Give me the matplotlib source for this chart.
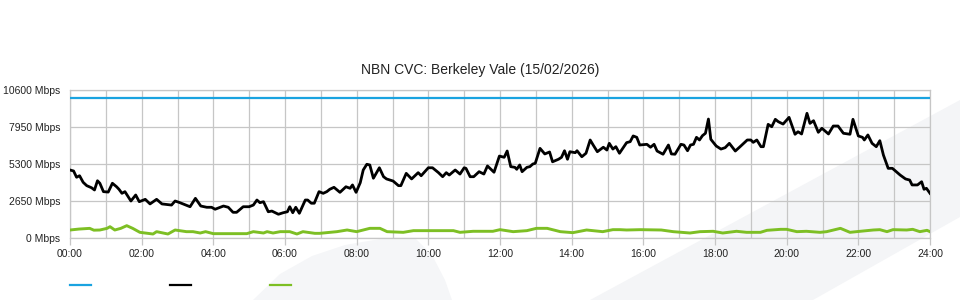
import numpy as np
import matplotlib.pyplot as plt
from matplotlib.lines import Line2D
from matplotlib.patches import Polygon

plt.rcParams['font.family'] = ['Liberation Sans', 'DejaVu Sans']

title = "NBN CVC: Berkeley Vale (15/02/2026)"

# capacity line (Mbps)
cvc_limit = 10000

# traffic in, minutes since midnight / Mbps
black_min = [0, 6, 11, 16, 22, 28, 36, 41, 46, 50, 56, 64, 71, 78, 82, 87, 92, 102, 110, 116,
             126, 134, 145, 154, 170, 176, 184, 201, 210, 219, 229, 237, 243, 257, 265, 273, 279,
             290, 300, 307, 313, 318, 324, 332, 338, 349, 357, 364, 368, 373, 378, 384, 394, 398,
             404, 409, 417, 424, 430, 435, 442, 452, 462, 469, 473, 479, 486, 491, 497, 502, 508,
             518, 525, 530, 541, 550, 554, 563, 572, 583, 588, 600, 607, 617, 624, 630, 635, 645,
             653, 660, 663, 670, 676, 685, 693, 699, 710, 719, 727, 732, 738, 745, 748, 753, 757,
             765, 770, 775, 779, 787, 795, 803, 808, 818, 823, 828, 833, 837, 846, 849, 857, 864,
             871, 876, 883, 893, 899, 903, 909, 914, 920, 932, 938, 943, 949, 954, 966, 972, 978,
             983, 993, 1002, 1007, 1013, 1023, 1028, 1034, 1039, 1044, 1049, 1054, 1059, 1064,
             1069, 1073, 1082, 1090, 1097, 1104, 1114, 1122, 1134, 1140, 1144, 1150, 1157, 1161,
             1169, 1175, 1181, 1186, 1194, 1204, 1214, 1219, 1225, 1234, 1239, 1245, 1253, 1259,
             1270, 1278, 1286, 1295, 1306, 1311, 1320, 1327, 1330, 1336, 1343, 1350, 1356, 1362,
             1370, 1377, 1390, 1399, 1406, 1410, 1419, 1426, 1430, 1434, 1440]
black_mbps = [4870, 4800, 4350, 4460, 3990, 3750, 3600, 3440, 4100, 3920, 3320, 3290, 3920, 3670,
              3490, 3200, 3320, 2650, 3080, 2600, 2770, 2440, 2770, 2440, 2360, 2650, 2530, 2240,
              2840, 2290, 2200, 2200, 2060, 2290, 2200, 1840, 1840, 2240, 2240, 2360, 2720, 2530,
              2600, 1880, 1930, 1700, 1810, 1880, 2240, 1810, 2200, 1770, 2720, 2720, 2490, 2490,
              3320, 3200, 3320, 3490, 3630, 3270, 3670, 3560, 3800, 3270, 3960, 4870, 5280, 5230,
              4280, 5030, 4390, 4230, 4080, 3750, 3750, 4630, 4230, 4680, 4460, 5030, 5030, 4680,
              4390, 4680, 4510, 4870, 4580, 5030, 4990, 4390, 4390, 4750, 4580, 5160, 4710, 5870,
              5780, 6230, 5110, 5060, 4920, 5230, 4750, 5060, 5110, 5300, 5350, 6420, 6020, 6160,
              5460, 5640, 5780, 6250, 5640, 6180, 6110, 6250, 5820, 6070, 7020, 6660, 6180, 6500,
              6300, 6780, 6370, 6540, 6070, 6830, 6900, 7310, 7210, 6660, 6710, 6500, 6710, 6230,
              6000, 6660, 6020, 6000, 6710, 6660, 6250, 6660, 6710, 7210, 7020, 7330, 7500, 8520,
              7070, 6590, 6370, 6470, 6780, 6230, 6540, 7020, 7020, 6850, 7020, 6540, 6540, 8140,
              7970, 8500, 8330, 8160, 8640, 7430, 7610, 7450, 8930, 8210, 8400, 7570, 7860, 7450,
              8020, 8020, 7500, 7430, 8500, 7310, 7210, 7020, 7380, 6780, 6540, 6970, 5940, 4990,
              4990, 4510, 4230, 4150, 3800, 3800, 4030, 3490, 3560, 3200]

# traffic out
green_min = [0, 15, 33, 40, 50, 62, 67, 75, 85, 95, 105, 117, 139, 145, 164, 176, 195, 206, 218,
             227, 240, 273, 296, 307, 324, 330, 340, 352, 368, 380, 390, 410, 418, 447, 464, 480,
             502, 519, 531, 558, 575, 642, 653, 675, 708, 720, 742, 765, 781, 799, 821, 842, 865,
             892, 909, 921, 932, 955, 990, 1010, 1038, 1055, 1077, 1093, 1116, 1133, 1156, 1167,
             1190, 1200, 1217, 1233, 1256, 1267, 1290, 1306, 1323, 1345, 1356, 1368, 1378, 1401,
             1411, 1423, 1435, 1440]
green_mbps = [573, 640, 690, 560, 573, 690, 810, 573, 690, 883, 690, 406, 286, 454, 286, 573, 454,
              454, 358, 454, 311, 311, 311, 454, 358, 454, 358, 454, 454, 286, 454, 334, 334, 454,
              573, 454, 692, 692, 454, 406, 526, 526, 406, 480, 480, 597, 454, 526, 692, 692, 454,
              382, 573, 454, 597, 597, 573, 597, 573, 454, 358, 454, 480, 358, 480, 406, 406, 550,
              621, 621, 454, 480, 406, 454, 692, 406, 480, 573, 597, 454, 597, 573, 621, 454, 550,
              454]

y_ticks = [0, 2650, 5300, 7950, 10600]
x_ticks = list(range(0, 1441, 120))
x_labels = ["%02d:00" % (m // 60) for m in x_ticks]

blue = '#1aa3e0'
green = '#7dbf24'
grid_c = '#c6c6c6'

fig = plt.figure(figsize=(9.6, 3.0), dpi=100)
fig.patch.set_facecolor('white')

# faint watermark shapes behind the chart
def px(pts):
    return [(x / 960, 1 - y / 300) for x, y in pts]

fig.add_artist(Polygon(px([(590, 300), (960, 100), (960, 217), (813, 300)]),
                       closed=True, transform=fig.transFigure, fc='#f4f5f7', ec='none', zorder=0))
fig.add_artist(Polygon(px([(253, 300), (280, 274), (312, 256), (345, 245), (380, 239), (415, 238),
                           (432, 255), (445, 280), (452, 300)]),
                       closed=True, transform=fig.transFigure, fc='#f5f6f8', ec='none', zorder=0))

ax = fig.add_axes([70 / 960, 62 / 300, 860 / 960, 148 / 300], zorder=1)
ax.patch.set_alpha(0)

ax.axhline(cvc_limit, color=blue, lw=1.6, zorder=3)
ax.plot(black_min, black_mbps, color='black', lw=2.0, zorder=4)
ax.plot(green_min, green_mbps, color=green, lw=2.1, zorder=3)

ax.set_xlim(0, 1440)
ax.set_ylim(0, 10600)
ax.set_xticks(x_ticks)
ax.set_xticklabels(x_labels)
ax.set_xticks(range(0, 1441, 60), minor=True)
ax.set_yticks(y_ticks)
ax.set_yticklabels(["%d Mbps" % v for v in y_ticks])

ax.grid(True, which='both', color=grid_c, lw=0.9, zorder=1)
for s in ax.spines.values():
    s.set_color(grid_c)
    s.set_linewidth(0.9)

ax.tick_params(axis='x', which='major', length=5, width=0.9, color=grid_c, pad=3,
               labelsize=7.5, labelcolor='#222222')
ax.tick_params(axis='x', which='minor', length=0)
ax.tick_params(axis='y', length=0, pad=7, labelsize=7.5, labelcolor='#222222')

fig.text(480 / 960, 1 - 70 / 300, title, ha='center', va='center', fontsize=10, color='#222222')

# legend keys (labels are blank in the source)
for x0, c in [(70, blue), (170, 'black'), (270, green)]:
    fig.add_artist(Line2D([x0 / 960, (x0 + 21) / 960], [1 - 285 / 300] * 2,
                          transform=fig.transFigure, color=c, lw=1.6))

fig.savefig('out.png', dpi=100)
